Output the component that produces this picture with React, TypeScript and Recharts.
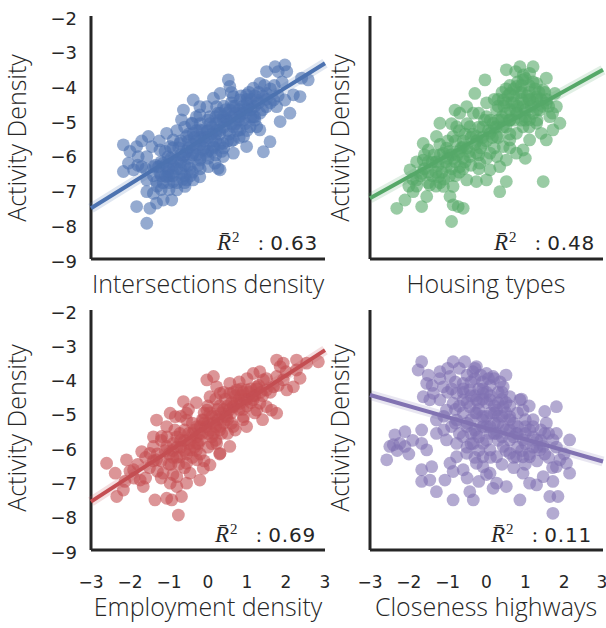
import React from 'react'
import { ScatterChart, Scatter, XAxis, YAxis } from 'recharts'

const X_TICKS = [-3, -2, -1, 0, 1, 2, 3]
const Y_TICKS = [-9, -8, -7, -6, -5, -4, -3, -2]

const COLORS = ['#4c72b0', '#55a868', '#c44e52', '#8172b2']
const X_LABELS = ['Intersections density', 'Housing types', 'Employment density', 'Closeness highways']
const R2_VALUES = ['0.63', '0.48', '0.69', '0.11']

// [x, y]
const intersectionsPts = [
  [-1.57, -7.97], [-1.83, -7.49], [-1.49, -7.54], [-1.15, -7.3], [-0.93, -7.3], [-1.32, -7.39],
  [-1.57, -7.06], [-1.4, -7.11], [-2.17, -6.48], [-1.91, -6.43], [-2.04, -6.24], [-2.17, -5.71],
  [-1.83, -5.76], [-1.53, -5.47], [-1.44, -5.76], [-1.57, -6.05], [-1.79, -6.05], [-1.7, -6.34],
  [-1.57, -6.72], [-1.32, -6.77], [-1.27, -6.34], [-1.02, -6.05], [-1.23, -5.86], [-1.06, -5.38],
  [-0.89, -5.57], [-0.97, -5.76], [-1.15, -6.24], [-0.89, -6.15], [-1.06, -6.63], [-1.23, -6.53],
  [-0.8, -7.01], [-0.59, -6.91], [-0.38, -6.72], [-0.21, -6.63], [-0.68, -6.53], [-0.46, -6.39],
  [-0.63, -6.05], [-0.38, -5.95], [-0.12, -5.86], [-0.21, -6.15], [0.01, -6.34], [0.31, -6.43],
  [0.18, -6.24], [0.39, -6.05], [0.65, -5.95], [0.99, -5.76], [0.14, -5.76], [0.39, -5.67],
  [0.65, -5.57], [0.91, -5.47], [-0.72, -5.67], [-0.55, -5.47], [-0.38, -5.38], [-0.21, -5.28],
  [-0.03, -5.33], [0.22, -5.28], [0.48, -4.99], [0.65, -5.19], [0.82, -5.28], [1.08, -5.19],
  [1.25, -5.19], [1.33, -5.28], [-0.68, -4.99], [-0.42, -5.09], [-0.21, -4.85], [0.05, -4.9],
  [0.31, -4.8], [0.56, -4.71], [0.82, -4.8], [-0.63, -4.71], [-0.38, -4.42], [-0.21, -4.61],
  [-0.03, -4.61], [0.22, -4.61], [0.14, -4.37], [0.31, -4.23], [0.65, -4.32], [0.82, -4.42],
  [0.52, -3.84], [0.56, -4.03], [0.99, -4.27], [1.16, -4.08], [1.33, -3.94], [1.25, -4.42],
  [1.5, -4.23], [1.68, -4.42], [1.76, -4.61], [1.5, -4.61], [1.33, -4.8], [1.16, -4.9],
  [1.03, -4.61], [1.5, -3.6], [1.72, -3.46], [1.97, -3.41], [2.02, -3.6], [1.8, -3.6],
  [2.57, -3.84], [2.4, -3.79], [2.36, -4.32], [2.19, -4.27], [1.97, -4.42], [2.1, -4.8],
  [1.85, -5.04], [1.59, -5.62], [1.42, -5.91], [0.26, -6.39], [-0.55, -6.72], [-0.89, -6.77],
  [-1.02, -6.48], [-1.4, -6.34], [-0.3, -5.6], [-0.1, -5.5], [0.1, -5.2], [0.3, -5.0],
  [-0.5, -5.8], [-0.7, -6.0], [-0.9, -6.3], [0.2, -5.4], [0.5, -5.3], [0.4, -4.6],
  [-0.6, -6.6], [-1.0, -6.8], [-1.2, -6.6], [0.0, -5.9], [-0.2, -6.1], [0.8, -4.9],
  [1.0, -4.5], [1.2, -4.6], [0.6, -4.5],
  [-1.3, -6.9], [-1.2, -7.0], [-1.1, -6.6], [-1.0, -6.4], [-0.9, -6.6], [-0.8, -6.4],
  [-0.7, -6.2], [-0.6, -6.3], [-0.5, -6.1], [-0.4, -6.0], [-0.3, -5.8], [-0.2, -5.7],
  [-0.1, -5.6], [0.0, -5.5], [0.1, -5.4], [0.2, -5.6], [0.3, -5.3], [0.4, -5.2],
  [0.5, -5.0], [0.6, -4.9], [0.7, -4.8], [0.8, -4.7], [0.9, -4.6], [1.0, -4.7],
  [1.1, -4.4], [1.2, -4.3], [1.3, -4.5], [1.4, -4.3], [1.5, -4.4], [1.6, -4.1],
  [-1.1, -5.9], [-0.9, -5.8], [-0.8, -5.3], [-0.6, -5.2], [-0.5, -5.4], [-0.4, -5.1],
  [-0.3, -4.9], [-0.2, -5.1], [0.0, -5.0], [0.2, -4.9], [0.4, -4.9], [0.6, -4.2],
  [0.9, -5.0], [1.1, -4.9], [1.4, -4.7], [1.7, -4.0], [1.9, -3.9], [-1.4, -6.6],
  [-1.2, -6.2], [-1.0, -7.0], [-0.8, -6.8], [-0.6, -6.8], [-0.4, -6.5], [-0.2, -6.4],
  [0.0, -6.1], [0.2, -6.0], [0.4, -5.8], [0.6, -5.6], [0.8, -5.5], [1.0, -5.3],
  [1.2, -5.0], [-0.7, -5.6], [-0.5, -5.6], [-0.3, -5.3], [0.1, -5.9], [0.3, -5.7],
  [0.5, -5.6], [0.7, -5.1], [-1.6, -6.4], [-1.8, -6.3], [-2.0, -5.9], [-1.7, -5.6],
  [-1.0, -6.6], [-0.9, -6.5], [-0.8, -6.2], [-0.7, -6.4], [-0.6, -6.0], [-0.5, -6.3],
  [-0.4, -5.7], [-0.3, -6.0], [-0.2, -5.5], [-0.1, -5.8], [0.0, -5.3], [0.1, -5.6],
  [0.2, -5.1], [0.3, -5.4], [0.4, -5.0], [0.5, -4.8], [0.6, -5.1], [0.7, -4.6],
  [0.8, -5.0], [0.9, -4.8], [1.0, -4.4], [1.1, -4.7], [1.2, -4.9], [1.3, -4.2],
  [-0.75, -5.8], [-0.55, -5.9], [-0.35, -5.5], [-0.15, -5.3], [0.05, -5.1], [0.25, -4.8],
  [0.45, -4.7], [0.65, -4.6], [0.85, -4.3], [1.05, -4.2], [-1.1, -6.3], [-0.95, -6.1],
  [-0.65, -6.7], [-0.45, -6.6], [-0.25, -6.3], [-0.05, -6.0], [0.15, -5.8], [0.35, -5.9],
  [0.55, -5.4], [0.75, -5.3], [0.95, -5.1], [-1.15, -6.8], [-1.35, -6.3], [-1.25, -5.6],
  [1.45, -4.0], [1.6, -4.5], [1.8, -4.3],
]

const housingPts = [
  [-0.9, -7.92], [-2.31, -7.54], [-2.1, -7.3], [-1.67, -7.49], [-0.86, -7.44], [-0.6, -7.54],
  [-0.73, -7.49], [1.46, -6.77], [0.34, -7.06], [0.51, -6.77], [-0.04, -3.84], [-0.3, -4.23],
  [0.86, -3.46], [1.2, -3.46], [1.11, -3.65], [0.51, -3.55], [1.54, -3.79], [1.76, -4.23],
  [1.8, -4.61], [1.89, -5.09], [1.71, -5.28], [1.54, -5.57], [1.41, -5.38], [1.11, -5.57],
  [-1.97, -6.43], [-1.8, -6.72], [-1.89, -7.06], [-1.54, -7.2], [-1.46, -6.87], [-1.67, -6.53],
  [-1.63, -6.15], [-1.5, -5.86], [-1.63, -5.67], [-1.29, -5.47], [-1.2, -5.09], [-1.11, -5.95],
  [-1.03, -6.34], [-1.24, -6.63], [-1.11, -6.91], [-0.86, -6.91], [-0.94, -7.2], [-1.03, -5.81],
  [-0.86, -5.47], [-0.77, -5.19], [-0.69, -4.8], [-0.81, -4.71], [-0.51, -4.61], [-0.34, -4.8],
  [-0.43, -5.19], [-0.26, -5.47], [-0.6, -5.76], [-0.43, -6.05], [-0.69, -6.34], [-0.51, -6.72],
  [-0.26, -6.77], [0.0, -6.72], [0.09, -6.43], [-0.17, -6.24], [-0.26, -5.95], [-0.09, -5.67],
  [0.09, -5.38], [0.17, -5.09], [0.0, -4.9], [0.26, -4.71], [0.43, -4.42], [0.6, -4.23],
  [0.77, -4.03], [0.94, -3.84], [1.29, -3.94], [1.46, -4.13], [1.29, -4.32], [1.11, -4.42],
  [0.94, -4.61], [0.77, -4.8], [0.6, -4.99], [0.43, -5.19], [0.26, -5.47], [0.43, -5.76],
  [0.6, -5.57], [0.77, -5.38], [0.94, -5.19], [1.11, -4.99], [1.37, -4.71], [1.54, -4.51],
  [1.63, -4.9], [1.29, -5.09], [0.77, -5.95], [0.51, -6.15], [0.26, -6.05], [0.09, -5.95],
  [0.34, -6.34], [0.94, -5.86], [0.5, -4.8], [0.7, -4.5], [0.3, -5.0], [-0.1, -5.2],
  [-0.6, -5.6], [-0.9, -6.0], [-1.3, -6.2], [-1.5, -6.5], [0.9, -4.2], [1.1, -4.0],
  [1.3, -4.4], [0.6, -5.4], [-0.2, -6.4], [-1.8, -6.9], [1.0, -5.0], [0.2, -4.4],
  [-1.6, -6.4], [-1.4, -6.2], [-1.3, -6.5], [-1.2, -6.0], [-1.0, -6.1], [-0.9, -6.4],
  [-0.8, -6.2], [-0.7, -5.9], [-0.6, -6.1], [-0.5, -5.8], [-0.4, -5.5], [-0.3, -5.7],
  [-0.2, -5.2], [-0.1, -5.5], [0.0, -5.6], [0.1, -5.0], [0.2, -5.2], [0.3, -4.6],
  [0.4, -4.9], [0.5, -4.5], [0.6, -4.7], [0.7, -4.3], [0.8, -4.6], [0.9, -4.4],
  [1.0, -4.7], [1.1, -4.2], [1.2, -4.5], [1.3, -4.7], [1.4, -4.4], [1.5, -4.2],
  [1.2, -3.9], [1.0, -3.8], [0.8, -3.9], [0.6, -4.0], [0.4, -4.2], [0.7, -5.0],
  [0.9, -5.0], [1.1, -5.2], [1.3, -5.0], [0.5, -5.2], [-1.5, -6.8], [-1.7, -6.6],
  [-1.9, -6.7], [-2.0, -6.9], [-1.3, -6.9], [-1.1, -6.7], [-0.8, -6.6], [-0.6, -6.4],
  [-0.4, -6.3], [-0.2, -6.0], [0.0, -6.1], [0.2, -5.8], [-1.0, -5.6], [-0.7, -5.3],
  [-0.5, -5.1], [-0.9, -5.1], [-1.2, -5.7], [0.3, -5.5], [0.6, -5.8], [1.0, -6.1],
  [1.6, -4.6], [1.7, -4.8], [0.0, -4.5], [-0.2, -4.8],
  [0.3, -4.4], [0.45, -4.6], [0.55, -4.3], [0.65, -4.5], [0.75, -4.7], [0.85, -4.2],
  [0.95, -4.5], [1.05, -4.3], [1.15, -4.6], [1.25, -4.1], [1.35, -4.2], [0.9, -4.0],
  [0.7, -4.1], [0.5, -4.1], [1.1, -4.4], [0.8, -4.8], [1.0, -4.9], [1.2, -4.8],
  [0.6, -5.0], [0.4, -5.0], [1.45, -4.6], [1.55, -4.4], [0.95, -3.7], [0.75, -3.6],
  [-1.5, -6.2], [-1.35, -6.0], [-1.25, -6.3], [-1.15, -6.5], [-1.05, -6.2], [-0.95, -5.9],
  [-0.85, -6.1], [-0.75, -6.0], [-0.65, -5.8], [-0.55, -6.2], [-0.45, -5.9], [-0.35, -5.4],
  [-0.25, -5.6], [-0.15, -5.8], [-1.4, -6.6], [-1.2, -6.8], [-0.95, -6.6], [-0.7, -6.5],
  [-1.6, -6.0], [-1.8, -6.2], [-0.55, -5.4], [-0.8, -5.6], [0.05, -5.3], [0.15, -5.5],
  [-0.05, -5.0], [0.25, -5.2],
]

const employmentPts = [
  [-0.76, -7.98], [-1.36, -7.54], [-1.06, -7.49], [-0.68, -7.44], [-0.93, -7.54], [-2.6, -6.47],
  [-2.38, -6.76], [-2.34, -7.44], [-2.17, -7.25], [-2.13, -7.0], [-2.09, -6.37], [-1.91, -6.66],
  [-1.74, -6.96], [-1.66, -7.15], [-1.7, -6.13], [-1.49, -6.18], [-1.4, -5.98], [-1.32, -6.37],
  [-1.32, -5.21], [-1.19, -5.69], [-1.06, -5.4], [-0.97, -5.01], [-0.84, -5.11], [-0.63, -4.67],
  [-0.55, -5.01], [-0.55, -5.21], [-0.72, -5.6], [-0.89, -5.89], [-1.06, -5.98], [-1.15, -6.76],
  [-0.97, -7.05], [-0.8, -7.15], [-0.8, -6.86], [-0.55, -7.05], [-0.46, -6.76], [-0.21, -6.96],
  [-0.12, -6.62], [0.05, -6.52], [-0.29, -6.37], [-0.55, -6.47], [-0.72, -6.28], [-0.46, -6.08],
  [-0.29, -5.89], [-0.21, -5.6], [-0.29, -5.4], [-0.12, -5.21], [-0.03, -4.92], [0.05, -4.53],
  [0.22, -4.24], [-0.03, -4.04], [0.14, -3.94], [0.31, -4.43], [0.56, -4.14], [0.56, -4.43],
  [0.74, -4.33], [0.65, -4.82], [0.82, -4.72], [0.48, -5.11], [0.65, -5.4], [0.56, -5.98],
  [0.31, -6.18], [0.22, -5.89], [0.14, -5.6], [0.31, -5.4], [0.99, -4.33], [1.16, -3.85],
  [1.33, -3.8], [1.42, -4.04], [1.25, -4.24], [1.16, -4.62], [1.33, -4.72], [1.5, -4.33],
  [1.68, -4.24], [1.5, -4.82], [1.25, -4.92], [0.91, -5.11], [0.99, -5.4], [1.85, -3.65],
  [1.76, -3.94], [1.93, -4.04], [2.02, -4.33], [2.19, -4.24], [2.27, -3.75], [1.76, -3.46],
  [1.93, -3.55], [2.27, -3.46], [2.53, -3.55], [2.83, -3.51], [2.36, -3.99], [1.63, -4.92],
  [1.76, -5.01], [-0.4, -5.6], [-0.2, -5.4], [0.0, -5.3], [0.2, -5.1], [0.4, -4.9],
  [0.6, -4.7], [0.8, -4.6], [-0.6, -5.8], [-0.8, -6.0], [-1.0, -6.2], [-1.2, -6.4],
  [0.1, -5.7], [0.3, -5.5], [-0.1, -5.0], [0.5, -5.2], [1.0, -4.8], [-0.3, -6.1],
  [-1.5, -6.6], [-1.4, -6.4], [-1.3, -6.7], [-1.1, -6.1], [-1.0, -6.5], [-0.9, -6.3],
  [-0.8, -5.7], [-0.7, -6.0], [-0.6, -5.5], [-0.5, -5.9], [-0.4, -5.3], [-0.3, -5.7],
  [-0.2, -5.8], [-0.1, -5.3], [0.0, -5.6], [0.1, -5.1], [0.2, -5.4], [0.3, -4.8],
  [0.4, -5.3], [0.5, -4.8], [0.6, -5.0], [0.7, -4.5], [0.8, -4.9], [0.9, -4.4],
  [1.0, -4.6], [1.1, -4.3], [1.2, -4.5], [1.3, -4.2], [1.4, -4.5], [1.5, -4.0],
  [1.6, -4.4], [1.8, -4.2], [2.0, -3.8], [-1.8, -6.5], [-2.0, -6.7], [-1.6, -6.9],
  [-1.2, -6.9], [-0.9, -6.8], [-0.6, -6.6], [-0.4, -6.3], [-0.2, -6.2], [0.0, -6.0],
  [0.2, -5.8], [-0.7, -5.1], [-0.5, -4.9], [-0.3, -4.7], [0.0, -4.8], [0.2, -4.6],
  [0.4, -4.4], [0.8, -4.1], [1.0, -4.0], [-1.2, -5.8], [-1.4, -5.7], [-0.1, -6.4],
  [0.3, -6.2], [0.5, -5.6], [0.7, -5.5], [0.9, -5.2], [1.2, -5.0], [1.4, -5.2],
  [-0.9, -6.1], [-0.8, -6.3], [-0.7, -5.8], [-0.6, -6.1], [-0.5, -5.6], [-0.45, -5.8],
  [-0.35, -5.5], [-0.25, -5.9], [-0.15, -5.6], [-0.05, -5.4], [0.05, -5.5], [0.15, -5.3],
  [0.25, -5.2], [0.35, -5.0], [0.45, -5.1], [0.55, -4.9], [0.65, -4.8], [0.75, -4.7],
  [0.85, -4.5], [0.95, -4.6], [1.05, -4.4], [1.15, -4.5], [1.25, -4.3], [1.35, -4.4],
  [-0.95, -6.5], [-0.75, -6.5], [-0.55, -6.2], [-0.35, -6.0], [-0.15, -5.2], [0.05, -5.0],
  [0.25, -4.9], [0.45, -4.6], [0.65, -4.4], [0.85, -4.3], [-1.05, -5.7], [-0.85, -5.5],
  [0.1, -5.9], [0.35, -5.6], [0.6, -5.3], [0.9, -4.9], [1.1, -4.7], [-1.3, -6.2],
  [-1.6, -6.3], [-1.9, -6.9],
]

const closenessPts = [
  [-2.57, -6.37], [-2.49, -5.98], [-2.36, -5.64], [-2.4, -5.93], [-2.1, -5.55], [-2.1, -5.98],
  [-2.23, -5.89], [-1.67, -5.5], [-1.67, -5.89], [-1.54, -6.08], [-1.67, -6.66], [-1.67, -7.0],
  [-1.41, -6.57], [-1.46, -6.96], [-1.29, -7.3], [-1.07, -6.96], [-0.86, -6.71], [-0.86, -7.54],
  [-0.43, -7.3], [-0.34, -7.54], [-0.6, -6.66], [-0.94, -6.47], [-0.77, -6.28], [-1.29, -5.6],
  [-1.29, -5.21], [-1.03, -5.79], [-0.77, -5.89], [-0.51, -6.18], [-0.26, -6.47], [-0.09, -6.57],
  [0.09, -6.76], [0.26, -7.05], [0.17, -7.2], [0.51, -7.15], [0.86, -7.54], [1.11, -7.05],
  [1.29, -7.1], [0.94, -6.76], [1.46, -6.86], [1.71, -7.0], [1.63, -7.44], [1.84, -7.44],
  [1.71, -7.93], [1.8, -6.57], [2.06, -6.47], [2.14, -6.76], [1.89, -6.37], [2.14, -5.79],
  [1.8, -5.6], [1.8, -4.82], [1.5, -4.96], [1.54, -5.3], [1.71, -5.79], [1.37, -6.08],
  [1.11, -6.28], [0.77, -6.28], [0.94, -5.79], [1.11, -5.5], [0.94, -4.92], [0.86, -4.62],
  [0.6, -4.53], [0.43, -4.24], [0.17, -3.94], [0.0, -3.85], [-0.26, -3.65], [-0.56, -3.51],
  [-0.86, -3.51], [-1.2, -3.8], [-1.67, -3.51], [-1.76, -3.75], [-1.54, -4.14], [-1.37, -4.43],
  [-1.11, -4.24], [-0.94, -3.94], [-0.77, -4.43], [-0.6, -4.14], [-0.43, -4.33], [-0.26, -4.62],
  [-0.09, -4.43], [0.09, -4.62], [0.26, -4.92], [0.43, -4.82], [0.6, -5.11], [0.43, -5.4],
  [0.26, -5.6], [0.09, -5.4], [-0.09, -5.21], [-0.26, -5.01], [-0.43, -4.82], [-0.6, -4.62],
  [-0.86, -4.72], [-1.03, -4.92], [-1.2, -4.62], [-1.46, -4.62], [-1.63, -4.53], [-0.77, -5.21],
  [-0.51, -5.4], [-0.26, -5.6], [-0.09, -5.89], [0.09, -6.08], [0.26, -6.28], [0.43, -5.98],
  [0.6, -5.79], [0.77, -5.6], [0.6, -6.18], [0.94, -6.28], [1.29, -5.79], [1.46, -5.98],
  [-0.09, -6.28], [-0.34, -5.89], [-0.6, -5.69], [-0.2, -4.9], [0.0, -5.1], [0.2, -5.3],
  [-0.4, -5.2], [0.3, -4.7], [-0.1, -4.6], [0.1, -5.6], [0.5, -5.5], [-0.6, -5.0],
  [0.7, -5.3], [1.0, -5.6], [1.2, -6.0], [0.8, -6.0], [1.4, -5.8], [-0.3, -5.5], [-0.8, -4.9],
  [-0.7, -3.7], [-0.5, -3.9], [-0.3, -4.0], [-0.1, -4.1], [0.1, -4.2], [0.3, -4.4],
  [-0.6, -4.3], [-0.4, -4.5], [-0.2, -4.3], [0.0, -4.4], [0.2, -4.0], [0.4, -4.6],
  [0.6, -4.8], [0.8, -5.0], [1.0, -5.2], [1.2, -5.4], [1.4, -5.5], [1.6, -5.6],
  [1.8, -6.0], [2.0, -6.2], [1.6, -6.3], [1.3, -6.4], [1.0, -6.5], [0.7, -6.6],
  [0.4, -6.5], [0.1, -6.3], [-0.2, -6.1], [-0.4, -5.9], [-0.1, -5.4], [0.2, -5.0],
  [0.4, -5.1], [0.6, -5.2], [0.8, -5.4], [1.0, -5.9], [1.2, -5.2], [1.5, -6.2],
  [1.7, -6.6], [-0.8, -4.1], [-1.0, -4.4], [-1.2, -4.0], [-1.4, -4.2], [-1.5, -3.9],
  [-1.0, -3.7], [-0.9, -5.4], [-1.1, -5.5], [-0.7, -5.6], [-0.5, -6.0], [-0.3, -6.3],
  [0.0, -5.8], [0.3, -5.8], [0.5, -6.1], [0.7, -5.7], [0.9, -4.6], [1.1, -4.8],
  [0.5, -3.9], [-0.3, -3.7], [-2.0, -6.2], [-2.3, -6.1], [-1.9, -5.8], [-0.5, -6.9],
  [-0.2, -7.0], [0.0, -6.8],
  [-0.6, -4.4], [-0.5, -4.7], [-0.4, -4.1], [-0.3, -4.5], [-0.2, -4.7], [-0.1, -4.3],
  [0.0, -4.7], [0.1, -4.5], [0.2, -4.8], [0.3, -5.1], [0.4, -4.4], [0.5, -4.7],
  [-0.5, -5.3], [-0.3, -5.0], [-0.1, -5.1], [0.1, -5.0], [0.3, -5.3], [0.5, -5.0],
  [-0.2, -5.7], [0.0, -5.4], [0.2, -5.6], [-0.4, -5.6], [0.4, -5.7], [0.6, -5.5],
  [0.8, -5.6], [1.0, -5.4], [1.2, -5.7], [1.1, -6.2], [0.9, -6.1], [0.7, -6.3],
  [1.3, -6.0], [1.5, -5.6], [-0.7, -4.8], [-0.9, -4.3], [-0.35, -3.8], [-0.15, -3.9],
  [0.05, -4.0], [0.35, -4.1], [-1.1, -5.1], [-0.8, -5.3],
]

// regression line end points at x = -3 and x = 3
const intersectionsFit = [[-3, -7.54], [3, -3.36]]
const housingFit = [[-3, -7.25], [3, -3.55]]
const employmentFit = [[-3, -7.59], [3, -3.17]]
const closenessFit = [[-3, -4.48], [3, -6.42]]

const toXY = (arr: number[][]) => arr.map(([x, y]) => ({ x, y }))

const AXIS = '#262626'
const TICK_FAMILY = 'DejaVu Sans'
const fmt = (v: number) => (v < 0 ? '\u2212' + Math.abs(v) : String(v))

const XTick = (props: any) => (
  <text x={props.x} y={props.y + 38} textAnchor="middle" fontFamily={TICK_FAMILY} fontSize={17} fill={AXIS}>
    {fmt(props.payload.value)}
  </text>
)

const YTick = (props: any) => (
  <text x={props.x - 14} y={props.y + 8.5} textAnchor="end" fontFamily={TICK_FAMILY} fontSize={18} fill={AXIS}>
    {fmt(props.payload.value)}
  </text>
)

interface PanelProps {
  pts: number[][]
  fit: number[][]
  color: string
  left: number
  top: number
  width: number
  height: number
  marginTop: number
  marginRight: number
  yWidth: number
  xHeight: number
  showX: boolean
  showY: boolean
}

const Panel: React.FC<PanelProps> = (p) => {
  const dots = toXY(p.pts)
  const line = toXY(p.fit)
  return (
    <div style={{ position: 'absolute', left: p.left, top: p.top }}>
      <ScatterChart
        width={p.width}
        height={p.height}
        margin={{ top: p.marginTop, right: p.marginRight, left: 0, bottom: 0 }}
      >
        <XAxis
          type="number"
          dataKey="x"
          domain={[-3, 3]}
          ticks={X_TICKS}
          height={p.xHeight}
          tick={p.showX ? <XTick /> : false}
          tickLine={false}
          tickSize={0}
          tickMargin={0}
          axisLine={{ stroke: AXIS, strokeWidth: 3 }}
        />
        <YAxis
          type="number"
          dataKey="y"
          domain={[-9, -2]}
          ticks={Y_TICKS}
          width={p.yWidth}
          tick={p.showY ? <YTick /> : false}
          tickLine={false}
          tickSize={0}
          tickMargin={0}
          axisLine={{ stroke: AXIS, strokeWidth: 3 }}
        />
        <Scatter
          data={dots}
          isAnimationActive={false}
          shape={(s: any) => <circle cx={s.cx} cy={s.cy} r={6.4} fill={p.color} fillOpacity={0.6} />}
        />
        <Scatter
          data={line}
          isAnimationActive={false}
          line={{ stroke: p.color, strokeWidth: 10, strokeOpacity: 0.18 }}
          shape={() => <g />}
        />
        <Scatter
          data={line}
          isAnimationActive={false}
          line={{ stroke: p.color, strokeWidth: 4 }}
          shape={() => <g />}
        />
      </ScatterChart>
    </div>
  )
}

const TITLE_FONT = { fontFamily: 'Open Sans', fontWeight: 300, fontSize: 25, fill: AXIS }

const R2 = ({ x, y, value }: { x: number; y: number; value: string }) => (
  <g fill={AXIS}>
    <text x={x - 101} y={y} fontFamily="Liberation Serif" fontStyle="italic" fontSize={23}>{'R\u0304'}</text>
    <text x={x - 86} y={y - 8} fontFamily="Liberation Serif" fontSize={15}>2</text>
    <text x={x - 60} y={y} fontFamily="Liberation Serif" fontSize={21}>:</text>
    <text x={x} y={y} textAnchor="end" fontFamily={TICK_FAMILY} fontSize={20} letterSpacing={0.8}>{value}</text>
  </g>
)

export default function App() {
  return (
    <div style={{ position: 'absolute', left: 0, top: 0, width: 606, height: 628, background: '#fff' }}>
      <Panel pts={intersectionsPts} fit={intersectionsFit} color={COLORS[0]} left={0} top={0} width={330} height={300}
        marginTop={16} marginRight={5} yWidth={91} xHeight={41} showX={false} showY={true} />
      <Panel pts={housingPts} fit={housingFit} color={COLORS[1]} left={330} top={0} width={276} height={300}
        marginTop={16} marginRight={3} yWidth={40} xHeight={41} showX={false} showY={false} />
      <Panel pts={employmentPts} fit={employmentFit} color={COLORS[2]} left={0} top={300} width={330} height={328}
        marginTop={10} marginRight={5} yWidth={91} xHeight={78} showX={true} showY={true} />
      <Panel pts={closenessPts} fit={closenessFit} color={COLORS[3]} left={330} top={300} width={276} height={328}
        marginTop={10} marginRight={3} yWidth={40} xHeight={78} showX={true} showY={false} />
      <svg width={606} height={628} style={{ position: 'absolute', left: 0, top: 0, pointerEvents: 'none' }}>
        <text x={208} y={293} textAnchor="middle" {...TITLE_FONT}>{X_LABELS[0]}</text>
        <text x={486} y={293} textAnchor="middle" {...TITLE_FONT}>{X_LABELS[1]}</text>
        <text x={208} y={616} textAnchor="middle" {...TITLE_FONT}>{X_LABELS[2]}</text>
        <text x={486} y={616} textAnchor="middle" {...TITLE_FONT}>{X_LABELS[3]}</text>
        <text transform="translate(26,138) rotate(-90)" textAnchor="middle" {...TITLE_FONT}>Activity Density</text>
        <text transform="translate(349,138) rotate(-90)" textAnchor="middle" {...TITLE_FONT}>Activity Density</text>
        <text transform="translate(26,428) rotate(-90)" textAnchor="middle" {...TITLE_FONT}>Activity Density</text>
        <text transform="translate(349,428) rotate(-90)" textAnchor="middle" {...TITLE_FONT}>Activity Density</text>
        <R2 x={318} y={250} value={R2_VALUES[0]} />
        <R2 x={595} y={250} value={R2_VALUES[1]} />
        <R2 x={316} y={542} value={R2_VALUES[2]} />
        <R2 x={592} y={542} value={R2_VALUES[3]} />
      </svg>
    </div>
  )
}
